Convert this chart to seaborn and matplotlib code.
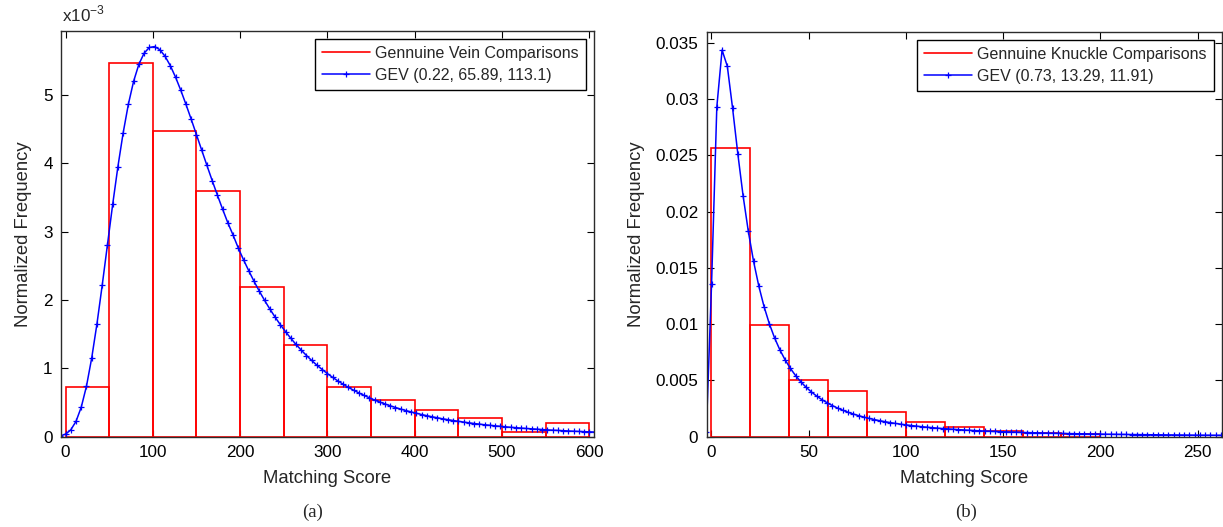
import numpy as np
import pandas as pd
import matplotlib
matplotlib.use("Agg")
import matplotlib.pyplot as plt
from matplotlib.lines import Line2D
from matplotlib.ticker import FuncFormatter
import seaborn as sns

sns.set_style("ticks")
plt.rcParams["font.family"] = ["Liberation Sans", "DejaVu Sans"]
plt.rcParams["mathtext.fontset"] = "custom"
plt.rcParams["mathtext.rm"] = "Liberation Sans"

# (a) vein: histogram bins and heights (x10^-3)
vein_edges = [0, 50, 100, 150, 200, 250, 300, 350, 400, 450, 500, 550, 600]
vein_hist = [0.726, 5.474, 4.467, 3.598, 2.196, 1.343, 0.726, 0.538, 0.395, 0.271, 0.064, 0.202]

# (a) fitted GEV curve samples (x10^-3)
vein_score = [-6, 0, 6, 12, 18, 24, 30, 36, 42, 48, 54, 60, 66, 72, 78, 84, 90, 96, 102,
              108, 114, 120, 126, 132, 138, 144, 150, 156, 162, 168, 174, 180, 186, 192,
              198, 204, 210, 216, 222, 228, 234, 240, 246, 252, 258, 264, 270, 276, 282,
              288, 294, 300, 306, 312, 318, 324, 330, 336, 342, 348, 354, 360, 366, 372,
              378, 384, 390, 396, 402, 408, 414, 420, 426, 432, 438, 444, 450, 456, 462,
              468, 474, 480, 486, 492, 498, 504, 510, 516, 522, 528, 534, 540, 546, 552,
              558, 564, 570, 576, 582, 588, 594, 600, 606]
vein_gev = [0.0113, 0.0375, 0.100, 0.224, 0.432, 0.740, 1.153, 1.652, 2.215, 2.807, 3.398,
            3.952, 4.445, 4.866, 5.201, 5.448, 5.611, 5.695, 5.708, 5.662, 5.566, 5.429,
            5.261, 5.069, 4.861, 4.643, 4.418, 4.192, 3.968, 3.747, 3.533, 3.326, 3.127,
            2.948, 2.757, 2.586, 2.425, 2.272, 2.129, 1.995, 1.869, 1.751, 1.640, 1.537,
            1.441, 1.350, 1.267, 1.188, 1.115, 1.046, 0.983, 0.923, 0.868, 0.816, 0.768,
            0.722, 0.680, 0.641, 0.604, 0.569, 0.537, 0.507, 0.479, 0.452, 0.427, 0.404,
            0.382, 0.362, 0.343, 0.324, 0.307, 0.291, 0.277, 0.262, 0.249, 0.237, 0.225,
            0.214, 0.203, 0.193, 0.184, 0.175, 0.167, 0.159, 0.152, 0.145, 0.138, 0.132,
            0.126, 0.120, 0.115, 0.110, 0.105, 0.100, 0.0958, 0.0917, 0.0878, 0.0841,
            0.0805, 0.0772, 0.0740, 0.0710, 0.0680]

# (b) knuckle: histogram bins and heights
knuckle_edges = [0, 20, 40, 60, 80, 100, 120, 140, 160, 180, 200]
knuckle_hist = [0.0257, 0.00993, 0.00503, 0.00404, 0.00221, 0.00130, 0.00082, 0.00048,
                0.00030, 0.00020]

# (b) fitted GEV curve samples
knuckle_score = [-2.6, 0.1, 2.8, 5.5, 8.2, 10.9, 13.6, 16.3, 19.0, 21.7, 24.4, 27.1, 29.8,
                 32.5, 35.2, 37.9, 40.6, 43.3, 46.0, 48.7, 51.4, 54.1, 56.8, 59.5, 62.2,
                 64.9, 67.6, 70.3, 73.0, 75.7, 78.4, 81.1, 83.8, 86.5, 89.2, 91.9, 94.6,
                 97.3, 100.0, 102.7, 105.4, 108.1, 110.8, 113.5, 116.2, 118.9, 121.6,
                 124.3, 127.0, 129.7, 132.4, 135.1, 137.8, 140.5, 143.2, 145.9, 148.6,
                 151.3, 154.0, 156.7, 159.4, 162.1, 164.8, 167.5, 170.2, 172.9, 175.6,
                 178.3, 181.0, 183.7, 186.4, 189.1, 191.8, 194.5, 197.2, 199.9, 202.6,
                 205.3, 208.0, 210.7, 213.4, 216.1, 218.8, 221.5, 224.2, 226.9, 229.6,
                 232.3, 235.0, 237.7, 240.4, 243.1, 245.8, 248.5, 251.2, 253.9, 256.6,
                 259.3, 262.0]
knuckle_gev = [0.000455, 0.013575, 0.029304, 0.034367, 0.032931, 0.029212, 0.025149,
               0.021433, 0.018247, 0.015585, 0.013382, 0.011558, 0.010046, 0.008784,
               0.007728, 0.006836, 0.006079, 0.005432, 0.004877, 0.004397, 0.003980,
               0.003616, 0.003297, 0.003016, 0.002767, 0.002546, 0.002349, 0.002173,
               0.002015, 0.001872, 0.001743, 0.001627, 0.001521, 0.001424, 0.001336,
               0.001255, 0.001182, 0.001114, 0.001051, 0.000994, 0.000940, 0.000891,
               0.000845, 0.000803, 0.000763, 0.000726, 0.000692, 0.000660, 0.000630,
               0.000601, 0.000575, 0.000550, 0.000527, 0.000505, 0.000484, 0.000465,
               0.000446, 0.000429, 0.000413, 0.000397, 0.000382, 0.000368, 0.000355,
               0.000342, 0.000330, 0.000319, 0.000308, 0.000298, 0.000288, 0.000279,
               0.000270, 0.000261, 0.000253, 0.000245, 0.000238, 0.000231, 0.000224,
               0.000217, 0.000211, 0.000205, 0.000199, 0.000193, 0.000188, 0.000183,
               0.000178, 0.000173, 0.000169, 0.000164, 0.000160, 0.000156, 0.000152,
               0.000148, 0.000144, 0.000141, 0.000137, 0.000134, 0.000131, 0.000128,
               0.000125]

W, H = 1223, 527
fig = plt.figure(figsize=(W / 100, H / 100), dpi=100)
ax1 = fig.add_axes([61 / W, (H - 436.7) / H, (594 - 61) / W, (436.7 - 30.7) / H])
ax2 = fig.add_axes([706.7 / W, (H - 436.7) / H, (1221.5 - 706.7) / W, (436.7 - 31.7) / H])

tick_fs = 12.3
label_fs = 13.3
leg_fs = 11.5


def draw_panel(ax, edges, heights, score, gev, hist_label, gev_label):
    e = np.array(edges, dtype=float)
    bars = pd.DataFrame({"score": (e[:-1] + e[1:]) / 2, "freq": heights})
    sns.histplot(data=bars, x="score", weights="freq", bins=list(edges), fill=False,
                 color="red", linewidth=1.2, ax=ax)
    curve = pd.DataFrame({"score": score, "pdf": gev})
    sns.lineplot(data=curve, x="score", y="pdf", color="blue", linewidth=1.1, marker="+",
                 markersize=4, markeredgecolor="blue", markeredgewidth=0.9, ax=ax)
    ax.tick_params(direction="in", top=True, right=True, length=5, width=0.8,
                   labelsize=tick_fs, pad=6, colors="black")
    for s in ax.spines.values():
        s.set_color("#2b2b2b")
        s.set_linewidth(1.0)
    ax.set_xlabel("Matching Score", fontsize=label_fs, labelpad=7)
    ax.set_ylabel("Normalized Frequency", fontsize=label_fs, labelpad=8)
    handles = [Line2D([], [], color="red", linewidth=1.2),
               Line2D([], [], color="blue", linewidth=1.1, marker="+", markersize=4,
                      markeredgewidth=0.9)]
    leg = ax.legend(handles, [hist_label, gev_label], loc="upper right", fontsize=leg_fs,
                    fancybox=False, framealpha=1, edgecolor="black", handlelength=3.0,
                    handletextpad=0.3, borderpad=0.45, labelspacing=0.42,
                    borderaxespad=0.5, numpoints=1)
    leg.get_frame().set_linewidth(1.0)


draw_panel(ax1, vein_edges, vein_hist, vein_score, vein_gev,
           "Gennuine Vein Comparisons", "GEV (0.22, 65.89, 113.1)")
ax1.set_xlim(-5.2, 605.4)
ax1.set_ylim(0, 5.94)
ax1.set_xticks([0, 100, 200, 300, 400, 500, 600])
ax1.set_yticks([0, 1, 2, 3, 4, 5])
fig.text(61.5 / W, 1 - 24 / H, r"x10$^{\mathregular{-3}}$", fontsize=tick_fs,
         ha="left", va="bottom")

draw_panel(ax2, knuckle_edges, knuckle_hist, knuckle_score, knuckle_gev,
           "Gennuine Knuckle Comparisons", "GEV (0.73, 13.29, 11.91)")
ax2.set_xlim(-2.4, 262.3)
ax2.set_ylim(0, 0.036)
ax2.set_xticks([0, 50, 100, 150, 200, 250])
ax2.set_yticks([0, 0.005, 0.01, 0.015, 0.02, 0.025, 0.03, 0.035])
ax2.yaxis.set_major_formatter(FuncFormatter(lambda v, p: "%g" % round(v, 4)))

fig.text(313 / W, 1 - 512 / H, "(a)", fontsize=13.5, family="Liberation Serif",
         ha="center", va="center")
fig.text(966 / W, 1 - 512 / H, "(b)", fontsize=13.5, family="Liberation Serif",
         ha="center", va="center")

fig.savefig("out.png", dpi=100)
